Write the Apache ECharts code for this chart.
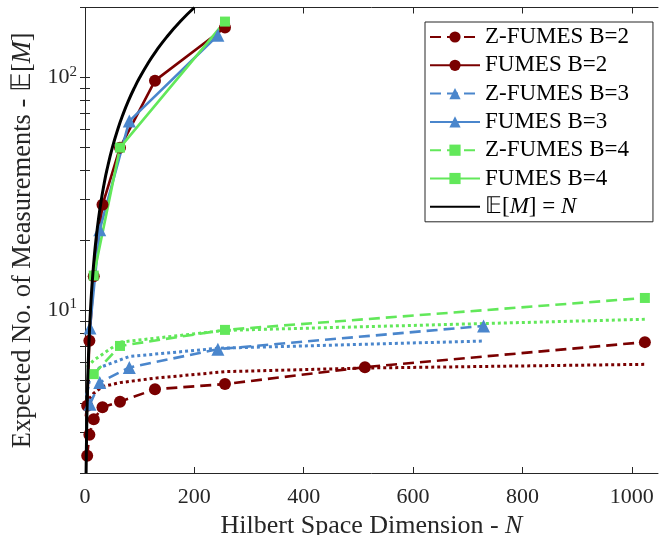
<!DOCTYPE html>
<html><head><meta charset="utf-8">
<script src="https://cdn.jsdelivr.net/npm/echarts@6/dist/echarts.min.js"></script>
<style>html,body{margin:0;padding:0;background:#fff}#c{width:668px;height:535px}</style>
</head><body><div id="c"></div>
<script>
// ---- data ----
const zB2N = [4, 8, 16, 32, 64, 128, 256, 512, 1024];
const zB2V = [2.37, 2.92, 3.4, 3.83, 4.05, 4.58, 4.82, 5.7, 7.3];
const fB2N = [4, 8, 16, 32, 64, 128, 256];
const fB2V = [3.89, 7.4, 14, 28.4, 50, 97, 164];
const zB3N = [9, 27, 81, 243, 729];
const zB3V = [3.95, 4.9, 5.68, 6.81, 8.57];
const fB3N = [9, 27, 81, 243];
const fB3V = [8.4, 22.2, 65, 152];
const zB4N = [16, 64, 256, 1024];
const zB4V = [5.32, 7.03, 8.24, 11.3];
const fB4N = [16, 64, 256];
const fB4V = [14.1, 50, 174];
// dotted curves (not in legend)
const dB2N = [2, 4, 8, 16, 32, 64, 128, 256, 512, 1024];
const dB2V = [3.5, 3.95, 4.18, 4.4, 4.7, 4.89, 5.11, 5.45, 5.65, 5.86];
const dB3N = [3, 9, 27, 81, 243, 729];
const dB3V = [4.3, 5.15, 5.68, 6.33, 6.87, 7.38];
const dB4N = [4, 16, 64, 256, 1024];
const dB4V = [5.7, 6.1, 7.3, 8.2, 9.15];
// reference line E[M] = N
const refN = [2, 2.5, 3, 3.5, 4, 5, 6, 7, 8, 10, 12, 14, 17, 20, 25, 30, 35, 40, 50, 60, 70, 80, 90, 100, 115, 130, 150, 175, 200];
// ticks
const xTicks = [0, 200, 400, 600, 800, 1000];
const yLabelVals = [10, 100];
const yTickVals = [2, 3, 4, 5, 6, 7, 8, 9, 10, 20, 30, 40, 50, 60, 70, 80, 90, 100, 200];

const names = ['Z-FUMES B=2', 'FUMES B=2', 'Z-FUMES B=3', 'FUMES B=3', 'Z-FUMES B=4', 'FUMES B=4', '𝔼[M] = N'];

// ---- styling ----
const RED = '#7a0000', BLUE = '#4a86cc', GREEN = '#62e85a', INK = '#262626';
const FONT = 'Liberation Serif';
const zip = (xs, ys) => xs.map((x, i) => [x, ys[i]]);
const DASH = [11, 6], DOT = [3, 3];

function mk(name, xs, ys, color, dash, symbol, size, z, w) {
  return {
    name, type: 'line', data: zip(xs, ys), symbol: symbol || 'none', symbolSize: size || 0,
    showSymbol: !!symbol, z: z || 2,
    lineStyle: { color, width: w || 2.6, type: dash || 'solid', cap: 'butt' },
    itemStyle: { color },
    emphasis: { disabled: true }, animation: false
  };
}

const series = [
  mk('', dB2N, dB2V, RED, DOT, null, 0, 1, 3),
  mk('', dB3N, dB3V, BLUE, DOT, null, 0, 1, 3),
  mk('', dB4N, dB4V, GREEN, DOT, null, 0, 1, 3),
  mk(names[0], zB2N, zB2V, RED, DASH, 'circle', 12),
  mk(names[1], fB2N, fB2V, RED, 'solid', 'circle', 12),
  mk(names[2], zB3N, zB3V, BLUE, DASH, 'triangle', 13),
  mk(names[3], fB3N, fB3V, BLUE, 'solid', 'triangle', 13),
  mk(names[4], zB4N, zB4V, GREEN, DASH, 'rect', 10),
  mk(names[5], fB4N, fB4V, GREEN, 'solid', 'rect', 10),
  Object.assign(mk(names[6], refN, refN, '#000000', 'solid', null, 0, 3, 3), { smooth: true })
];

const txt = (size, extra) => Object.assign({ color: INK, fontFamily: FONT, fontSize: size }, extra || {});
const yLab = v => '{r|10}{s|' + Math.round(Math.log10(v)) + '}';

const option = {
  animation: false,
  backgroundColor: '#fff',
  textStyle: { fontFamily: FONT },
  grid: { left: 85, right: 10, top: 7.5, bottom: 62, containLabel: false, outerBoundsMode: 'none' },
  xAxis: [
    { type: 'value', position: 'bottom', min: 0, max: 1048, interval: 200,
      axisLine: { show: true, lineStyle: { color: INK, width: 1 } },
      axisTick: { show: true, inside: true, length: 6, lineStyle: { color: INK }, customValues: xTicks },
      axisLabel: txt(22, { show: true, customValues: xTicks, margin: 13, formatter: v => '{r|' + v + '}',
        rich: { r: txt(22) } }),
      splitLine: { show: false },
      name: '{r|Hilbert Space Dimension - }{i|N}', nameLocation: 'middle', nameGap: 30,
      nameTextStyle: txt(26, { rich: { r: txt(26), i: txt(26, { fontStyle: 'italic' }) } })
    },
    { type: 'value', position: 'top', min: 0, max: 1048, interval: 200,
      axisLine: { show: true, lineStyle: { color: INK, width: 1 } },
      axisTick: { show: true, inside: true, length: 6, lineStyle: { color: INK }, customValues: xTicks },
      axisLabel: { show: false }, splitLine: { show: false } }
  ],
  yAxis: [
    { type: 'log', logBase: 10, position: 'left', min: 2, max: 200,
      axisLine: { show: true, lineStyle: { color: INK, width: 1 } },
      axisTick: { show: true, inside: true, length: 5, lineStyle: { color: INK }, customValues: yTickVals },
      axisLabel: txt(22, { show: true, customValues: yLabelVals, formatter: yLab, margin: 8,
        rich: { r: txt(22), s: txt(15, { padding: [0, 0, 12, 0] }) } }),
      splitLine: { show: false },
      name: '{r|Expected No. of Measurements - 𝔼[}{i|M}{r|]}', nameLocation: 'middle', nameGap: 47, nameRotate: 90,
      nameTextStyle: txt(26.5, { rich: { r: txt(26.5), i: txt(26.5, { fontStyle: 'italic' }) } })
    },
    { type: 'log', logBase: 10, position: 'right', min: 2, max: 200,
      axisLine: { show: true, lineStyle: { color: INK, width: 1 } },
      axisTick: { show: true, inside: true, length: 5, lineStyle: { color: INK }, customValues: yTickVals },
      axisLabel: { show: false }, splitLine: { show: false } }
  ],
  legend: {
    orient: 'vertical', left: 425, top: 22,
    data: names.slice(0, 6).concat([{ name: names[6], itemStyle: { opacity: 0 } }]),
    itemWidth: 50, itemHeight: 14, itemGap: 4.3, itemTextGap: 5,
    padding: [3, 24, 3, 4],
    borderColor: INK, borderWidth: 1, backgroundColor: '#fff',
    formatter: n => n === names[6] ? '{r|𝔼[}{i|M}{r|] = }{i|N}' : '{r|' + n + '}',
    textStyle: txt(23, { color: '#000', lineHeight: 24,
      rich: { r: txt(23, { color: '#000' }), i: txt(23, { fontStyle: 'italic', color: '#000' }) } })
  },
  series
};

const chart = echarts.init(document.getElementById('c'), null, { renderer: 'canvas' });
chart.setOption(option);
</script>
</body></html>
